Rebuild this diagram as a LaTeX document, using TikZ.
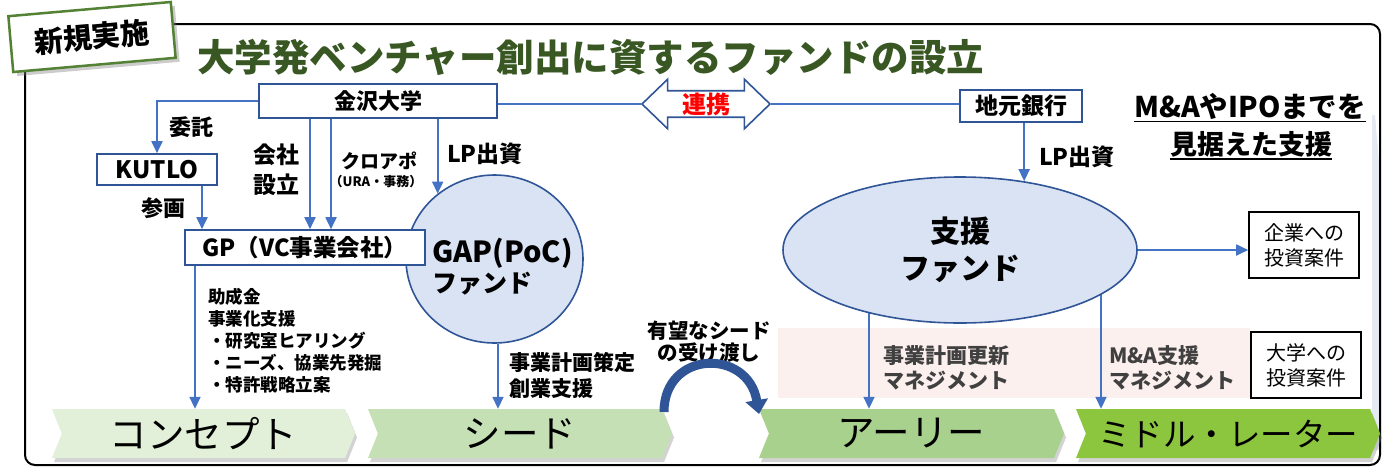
\documentclass[tikz,border=0pt]{standalone}
\usepackage{fontspec}
\setmainfont{Noto Sans CJK JP}
\usetikzlibrary{arrows.meta,shapes.geometric,shapes.symbols,shapes.arrows,shadows}

\definecolor{lineblue}{HTML}{4472C4}
\definecolor{boxblue}{HTML}{2F5597}
\definecolor{fundblue}{HTML}{DAE3F3}
\definecolor{titlegreen}{HTML}{385723}
\definecolor{taggreen}{HTML}{548235}
\definecolor{stageA}{HTML}{E2F0D9}
\definecolor{stageB}{HTML}{C5E0B4}
\definecolor{stageC}{HTML}{A9D18E}
\definecolor{stageD}{HTML}{8CC63F}
\definecolor{bandpink}{HTML}{FCF0EE}
\definecolor{palegray}{HTML}{E4E9F2}
\definecolor{darktext}{HTML}{404040}

\pgfdeclarelayer{background}
\pgfsetlayers{background,main}

\begin{document}
\begin{tikzpicture}[
        x=1pt, y=-1pt,
        box/.style={draw=boxblue, line width=1.6pt, fill=white, inner sep=0pt,
            font=\bfseries\fontsize{22}{22}\selectfont},
        case/.style={draw=black, line width=1.6pt, fill=white, inner sep=0pt,
            minimum width=110pt, minimum height=66pt, align=center,
            font=\fontsize{20}{25}\selectfont},
        fund/.style={ellipse, draw=boxblue, line width=1.6pt, fill=fundblue,
            inner sep=0pt, align=center},
        link/.style={draw=lineblue, line width=1.8pt},
        flow/.style={link, -{Triangle[width=11pt,length=12pt]}},
        handover/.style={draw=boxblue, line width=9pt,
            -{Triangle[width=22pt,length=14pt]}},
        lbl/.style={inner sep=0pt, align=left,
            font=\bfseries\fontsize{21}{25}\selectfont},
        goal/.style={inner sep=0pt, font=\bfseries\fontsize{27}{27}\selectfont},
        stage/.style={signal, signal to=east, signal from=west,
            signal pointer angle=136, minimum height=49pt, inner sep=0pt,
            font=\fontsize{37.5}{37.5}\selectfont,
            drop shadow={opacity=0.35, shadow xshift=2pt, shadow yshift=-4pt}},
    ]
    \useasboundingbox (0,0) rectangle (1384,469);

    % frame
    \fill[palegray] (1372,115) -- (1375,115) -- (1381,187) -- (1381,450)
                    -- (1372,450) -- cycle;
    \draw[line width=2pt, rounded corners=10pt] (25,24) rectangle (1380,465);

    \node[draw=taggreen, line width=2.5pt, fill=white, rotate=5,
          minimum width=163pt, minimum height=56pt,
          font=\bfseries\fontsize{29}{29}\selectfont,
          drop shadow={opacity=0.4, shadow xshift=4pt, shadow yshift=-4pt}]
          (tag) at (92,37) {新規実施};
    \node[anchor=west, inner sep=0pt, text=titlegreen,
          font=\bfseries\fontsize{37.5}{37.5}\selectfont]
          (title) at (197,57) {大学発ベンチャー創出に資するファンドの設立};

    % partners
    \node[box, minimum width=238pt, minimum height=34pt] (univ) at (378,101) {金沢大学};
    \node[box, minimum width=122pt, minimum height=32pt,
          font=\bfseries\fontsize{23}{23}\selectfont] (bank) at (1021,106) {地元銀行};
    \node[box, minimum width=120pt, minimum height=31pt,
          font=\bfseries\fontsize{24}{24}\selectfont] (kutlo) at (157,169.5) {KUTLO};
    \node[double arrow, draw=boxblue, line width=1.6pt, fill=white,
          minimum height=128pt, minimum width=48pt,
          double arrow head extend=11.5pt, double arrow tip angle=88,
          inner sep=1pt, text=red, font=\bfseries\fontsize{24}{24}\selectfont]
          (renkei) at (706,104) {連携};
    \node[goal, font=\bfseries\fontsize{28.5}{28.5}\selectfont] (goal1) at (1250,106) {M\&AやIPOまでを};
    \node[goal] (goal2) at (1251,144) {見据えた支援};
    \draw[line width=1.6pt] ([yshift=-2pt]goal1.south west) -- ([yshift=-2pt]goal1.south east);
    \draw[line width=1.6pt] ([yshift=-2pt]goal2.south west) -- ([yshift=-2pt]goal2.south east);

    % funds
    \node[fund, minimum width=177pt, minimum height=168pt,
          label={[inner sep=0pt, align=left, xshift=8pt, yshift=-8pt,
                  font=\bfseries\fontsize{25}{30}\selectfont]center:
                 {\fontsize{29}{30}\selectfont GAP(PoC)}\\ファンド}]
          (gap) at (494.5,259) {};
    \node[box, minimum width=240pt, minimum height=35pt,
          font=\bfseries\fontsize{23.5}{23.5}\selectfont] (gp) at (305,247.5) {GP（VC事業会社）};
    \node[fund, minimum width=354pt, minimum height=146pt,
          font=\bfseries\fontsize{30}{37}\selectfont] (support) at (960,250) {支援\\ファンド};

    \node[case] (corpcase) at (1304,245) {企業への\\投資案件};
    \node[case] (univcase) at (1306,365) {大学への\\投資案件};

    % stages
    \node[stage, fill=stageA, minimum width=303pt] (concept) at (203.5,433.5) {コンセプト};
    \node[stage, fill=stageB, minimum width=304pt] (seed) at (520,433.5) {シード};
    \node[stage, fill=stageC, minimum width=305pt] (early) at (911.5,433.5) {アーリー};
    \node[stage, fill=stageD, minimum width=304pt,
          font=\fontsize{32.5}{32.5}\selectfont] (middle) at (1228,433.5) {ミドル・レーター};

    % labels
    \node[lbl, font=\bfseries\fontsize{22}{22}\selectfont] (l1) at (191,127) {委託};
    \node[lbl, font=\bfseries\fontsize{22}{22}\selectfont] (l2) at (163,208) {参画};
    \node[lbl, align=center, font=\bfseries\fontsize{23}{30}\selectfont] (l3) at (276,170) {会社\\設立};
    \node[lbl, font=\bfseries\fontsize{19}{19}\selectfont] (l4) at (379,161) {クロアポ};
    \node[lbl, font=\bfseries\fontsize{13}{13}\selectfont] (l5) at (376,182) {（URA・事務）};
    \node[lbl, font=\bfseries\fontsize{23}{23}\selectfont] (l6) at (485,154) {LP出資};
    \node[lbl, font=\bfseries\fontsize{23}{23}\selectfont] (l7) at (1077,157) {LP出資};
    \node[lbl, anchor=west, font=\bfseries\fontsize{17.5}{22}\selectfont] (l8) at (208,341)
          {助成金\\事業化支援\\・研究室ヒアリング\\・ニーズ、協業先発掘\\・特許戦略立案};
    \node[lbl, anchor=west, font=\bfseries\fontsize{21}{26}\selectfont] (l9) at (509,375) {事業計画策定\\創業支援};
    \node[lbl, align=center, font=\bfseries\fontsize{20.5}{22}\selectfont] (l10) at (709,342)
          {有望なシード\\の受け渡し};
    \node[lbl, anchor=west, text=darktext] (l11) at (883,367.5) {事業計画更新\\マネジメント};
    \node[lbl, anchor=west, text=darktext] (l12) at (1109,367.5) {M\&A支援\\マネジメント};

    % connectors
    \coordinate (xb) at (202,0);
    \coordinate (xc) at (310,0);
    \coordinate (xd) at (331,0);
    \coordinate (xe) at (195,0);
    \coordinate (xf) at (498,0);
    \coordinate (xg) at (869,0);
    \coordinate (xh) at (1101,0);

    \draw[link] (renkei.west -| univ.east) -- (renkei.west);
    \draw[link] (renkei.east) -- (renkei.east -| bank.west);
    \draw[flow] (univ.west) -| (kutlo.north);
    \draw[flow] (kutlo.south -| xb) -- (gp.north -| xb);
    \draw[flow] (univ.south -| xc) -- (gp.north -| xc);
    \draw[flow] (univ.south -| xd) -- (gp.north -| xd);
    \draw[flow] (gap.131 |- univ.south) -- (gap.131);
    \draw[flow] (gp.south -| xe) -- (concept.north -| xe);
    \draw[flow] (gap.south -| xf) -- (seed.north -| xf);
    \draw[flow] (support.47 |- bank.south) -- (support.47);
    \draw[flow] (support.east) -- (support.east -| corpcase.west);

    \begin{pgfonlayer}{background}
        \fill[bandpink] (778,328) rectangle (1250,398);
        \draw[flow] (support.center -| xg) -- (early.north -| xg);
        \draw[flow] (support.center -| xh) -- (middle.north -| xh);
    \end{pgfonlayer}

    % hand-over
    \coordinate (hs) at (664,412);
    \coordinate (he) at (759,414);
    \draw[handover] (hs) .. controls (664,350) and (748,348) .. (he);
\end{tikzpicture}
\end{document}
